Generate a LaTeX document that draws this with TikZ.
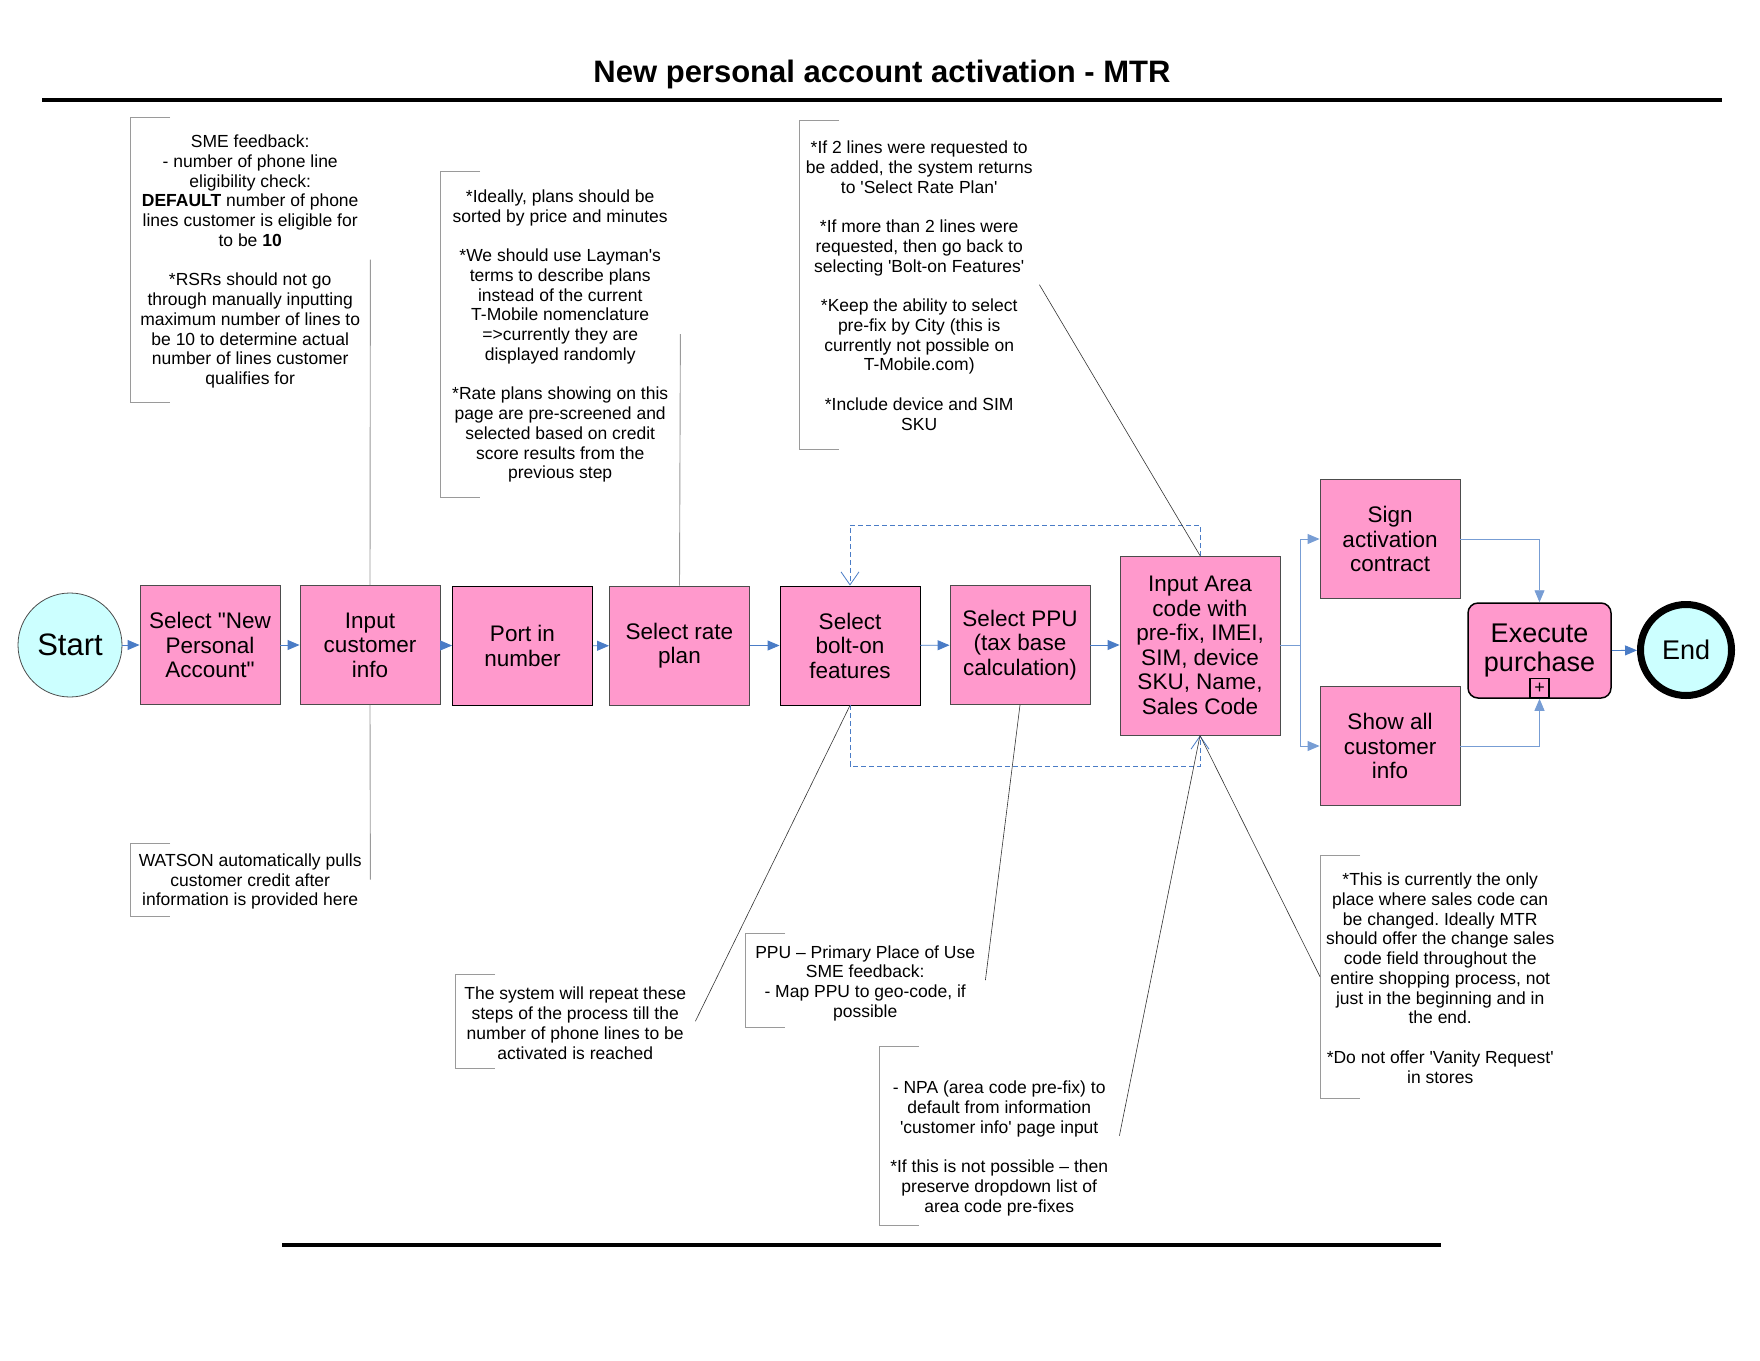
\documentclass[tikz,border=0pt]{standalone}
\usepackage{fontspec}
\newfontfamily\af{Liberation Sans}
\usetikzlibrary{arrows.meta}
\definecolor{pinkc}{HTML}{FF99CC}
\definecolor{cyanc}{HTML}{CCFFFF}
\definecolor{bluec}{HTML}{4A7CC6}
\definecolor{linec}{HTML}{9A9A9A}
\frenchspacing
\begin{document}
\begin{tikzpicture}[x=1pt,y=-1pt,
  proc/.style={draw=black!70, line width=0.9pt, fill=pinkc, minimum width=140pt, minimum height=119pt,
    inner sep=2pt, align=center, font=\af\fontsize{22.5}{24.5}\selectfont},
  term/.style={circle, fill=cyanc, align=center, inner sep=0pt},
  annotext/.style={inner sep=0pt, align=center, font=\af\fontsize{17.5}{19.75}\selectfont},
  anno/.style={annotext, anchor=north west, minimum width=240pt},
  bracket/.style={draw=linec, line width=0.9pt},
  note/.style={draw=black!80, line width=0.6pt},
  vnote/.style={draw=linec, line width=0.9pt},
  flow/.style={draw=bluec, line width=0.9pt, -{Triangle[length=12pt,width=10pt]}},
  link/.style={draw=bluec!75, line width=0.9pt, -{Triangle[length=12pt,width=10pt]}},
  loopline/.style={draw=bluec, line width=0.8pt, dash pattern=on 5pt off 3pt,
    -{Straight Barb[length=13pt,width=18pt]}}
]
\useasboundingbox (0,0) rectangle (1760,1360);

% title and rules
\node[font=\af\bfseries\fontsize{31}{36}\selectfont] (title) at (882,74) {New personal account activation - MTR};
\coordinate (tl) at (42,100);
\coordinate (tr) at (1722,100);
\draw[line width=3.5pt] (tl) -- (tr);
\coordinate (bl) at (282,1245);
\coordinate (br) at (1441,1245);
\draw[line width=3.5pt] (bl) -- (br);

% main flow
\node[term, draw=black!70, line width=0.8pt, minimum size=104pt, font=\af\fontsize{31}{36}\selectfont] (start) at (70,645) {Start};
\node[proc] (b1) at (210,645) {Select "New\\Personal\\Account"};
\node[proc] (b2) at (370,645) {Input\\customer\\info};
\node[proc, draw=black] (b3) at (522.5,646) {Port in\\number};
\node[proc] (b4) at (679.5,645.5) {Select rate\\plan};
\node[proc, draw=black] (b5) at (850,645.5) {Select\\bolt-on\\features};
\node[proc] (b6) at (1020,645) {Select PPU\\(tax base\\calculation)};
\node[proc, minimum width=160pt, minimum height=179pt] (b7) at (1200,645.5) {Input Area\\code with\\pre-fix, IMEI,\\SIM, device\\SKU, Name,\\Sales Code};
\node[proc] (b8) at (1390,539) {Sign\\activation\\contract};
\node[proc] (b9) at (1390,746) {Show all\\customer\\info};
\node[proc, draw=black, line width=1.5pt, rounded corners=10pt, minimum width=143pt, minimum height=95pt,
  font=\af\fontsize{27}{29.5}\selectfont] (ex) at (1539.5,650.5) {Execute\\purchase};
\node[draw=black, line width=1.3pt, minimum size=19pt, inner sep=0pt, anchor=south,
  font=\af\fontsize{18}{18}\selectfont] (plus) at ([yshift=0.75pt]ex.south) {+};
\node[term, draw=black, line width=7pt, minimum size=91pt, font=\af\fontsize{27}{32}\selectfont] (end) at (1686,650) {End};

\draw[flow] (start) -- (b1);
\draw[flow] (b1) -- (b2);
\draw[flow] (b2) -- (b3);
\draw[flow] (b3) -- (b4);
\draw[flow] (b4) -- (b5);
\draw[flow] (b5) -- (b6);
\draw[flow] (b6) -- (b7.west |- b6.east);
\coordinate (split) at (1300,645);
\draw[draw=bluec!75, line width=0.9pt] (b7.east |- split) -- (split);
\draw[link] (split) |- (b8.west);
\draw[link] (split) |- (b9.west);
\draw[link] (b8.east) -| (ex.north);
\draw[link] (b9.east) -| (ex.south);
\draw[flow] (ex.east) -- (end);

% dashed loops
\coordinate (lt) at (1200,525);
\coordinate (lb) at (850,766);
\draw[loopline] (b7.north) -- (lt) -| (b5.north);
\draw[loopline] (b5.south) -- (lb) -| (b7.south);

% annotations (bracket regions)
\node[anno, minimum height=285pt] (a1) at (130,117) {};
\node[anno, minimum height=73pt] (a2) at (130,843) {};
\node[anno, minimum height=326pt] (a3) at (440,171) {};
\node[anno, minimum height=329pt] (a4) at (799,120) {};
\node[anno, minimum height=94pt] (a5) at (455,974) {};
\node[anno, minimum height=94pt] (a6) at (745,933) {};
\node[anno, minimum height=179pt] (a7) at (879,1046) {};
\node[anno, minimum height=243pt] (a8) at (1320,855) {};

% annotation texts
\node[annotext] (a1t) at ([yshift=-2pt]a1.center) {SME feedback:\\- number of phone line\\eligibility check:\\\textbf{DEFAULT} number of phone\\lines customer is eligible for\\to be \textbf{10}\\[19.75pt]*RSRs should not go\\through manually inputting\\maximum number of lines to\\be 10 to determine actual\\number of lines customer\\qualifies for};
\node[annotext] (a2t) at ([yshift=-2pt]a2.center) {WATSON automatically pulls\\customer credit after\\information is provided here};
\node[annotext] (a3t) at ([yshift=-2pt]a3.center) {*Ideally, plans should be\\sorted by price and minutes\\[19.75pt]*We should use Layman's\\terms to describe plans\\instead of the current\\T-Mobile nomenclature\\=>currently they are\\displayed randomly\\[19.75pt]*Rate plans showing on this\\page are pre-screened and\\selected based on credit\\score results from the\\previous step};
\node[annotext] (a4t) at ([yshift=-1pt]a4.center) {*If 2 lines were requested to\\be added, the system returns\\to 'Select Rate Plan'\\[19.75pt]*If more than 2 lines were\\requested, then go back to\\selecting 'Bolt-on Features'\\[19.75pt]*Keep the ability to select\\pre-fix by City (this is\\currently not possible on\\T-Mobile.com)\\[19.75pt]*Include device and SIM\\SKU};
\node[annotext] (a5t) at ([yshift=-2pt]a5.center) {The system will repeat these\\steps of the process till the\\number of phone lines to be\\activated is reached};
\node[annotext] (a6t) at ([yshift=-3pt]a6.center) {PPU – Primary Place of Use\\SME feedback:\\- Map PPU to geo-code, if\\possible};
\node[annotext] (a7t) at ([yshift=-13pt]a7.center) {- NPA (area code pre-fix) to\\default from information\\'customer info' page input\\[19.75pt]*If this is not possible – then\\preserve dropdown list of\\area code pre-fixes};
\node[annotext] (a8t) at ([yshift=-1.5pt]a8.center) {*This is currently the only\\place where sales code can\\be changed. Ideally MTR\\should offer the change sales\\code field throughout the\\entire shopping process, not\\just in the beginning and in\\the end.\\[19.75pt]*Do not offer 'Vanity Request'\\in stores};

\foreach \a in {a1,a2,a3,a4,a5,a6,a7,a8}{
  \draw[bracket] ([xshift=40pt]\a.north west) -- (\a.north west) -- (\a.south west) -- ([xshift=40pt]\a.south west);
}

% annotation connectors
\draw[vnote] (a1.east) -- (b2.north);
\draw[vnote] (a2.east) -- (b2.south);
\draw[vnote] (a3.east) -- (b4.north);
\draw[note] (a4.east) -- (b7.north);
\draw[note] (a5.east) -- (b5.south);
\draw[note] (a6.east) -- (b6.south);
\draw[note] (a7.east) -- (b7.south);
\draw[note] (a8.west) -- (b7.south);
\end{tikzpicture}
\end{document}
